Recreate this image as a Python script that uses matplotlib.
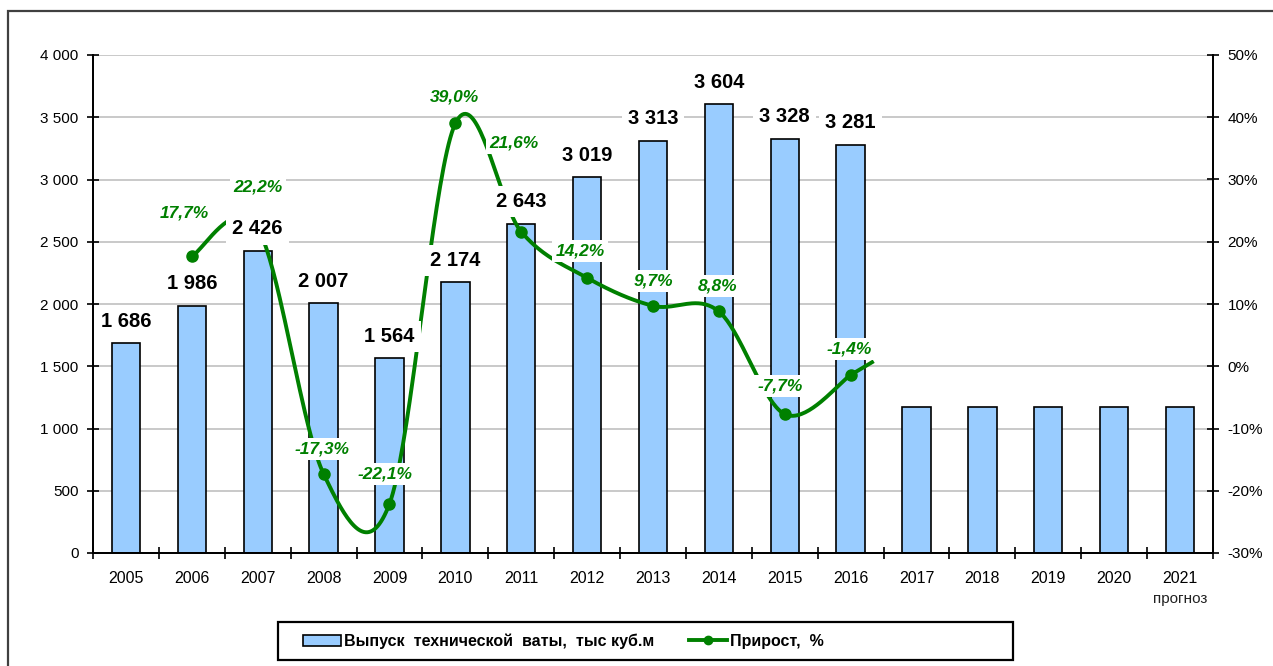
import numpy as np
import matplotlib
matplotlib.use("Agg")
import matplotlib.pyplot as plt
from matplotlib.patches import Rectangle
from matplotlib.lines import Line2D
from matplotlib.patches import Patch

# ---------------- data ----------------
years = ["2005", "2006", "2007", "2008", "2009", "2010", "2011", "2012",
         "2013", "2014", "2015", "2016", "2017", "2018", "2019", "2020", "2021"]
output_vol = [1686, 1986, 2426, 2007, 1564, 2174, 2643, 3019, 3313, 3604,
              3328, 3281, 1175, 1175, 1175, 1175, 1175]
labeled_bars = 12  # first 12 bars carry value labels
growth_years = ["2006", "2007", "2008", "2009", "2010", "2011", "2012",
                "2013", "2014", "2015", "2016"]
growth_pct = [17.7, 22.2, -17.3, -22.1, 39.0, 21.6, 14.2, 9.7, 8.8, -7.7, -1.4]
bar_series_name = "Выпуск  технической  ваты,  тыс куб.м"
line_series_name = "Прирост,  %"
forecast_note = "прогноз"

# label offsets (pixels) for growth labels: (dx, dy)
growth_label_offsets = [(-7, 43), (0, 41), (-2, 25), (-4, 30), (-1, 26), (-7, 89),
                        (-7, 27), (0, 25), (-1, 25), (-5, 28), (-1, 26)]

FONT = ["Liberation Sans", "DejaVu Sans"]
plt.rcParams["font.family"] = FONT

W, H = 1273, 666
fig = plt.figure(figsize=(W / 100, H / 100), dpi=100)
fig.patch.set_facecolor("white")

# outer frame
fig.add_artist(Rectangle((8 / W, -0.1), 1.2, 1.1 - 11 / H, transform=fig.transFigure,
                         fill=False, edgecolor="#404040", linewidth=1.6))

left, right, top, bottom = 93, 1213, 55, 553
ax = fig.add_axes([left / W, (H - bottom) / H, (right - left) / W, (bottom - top) / H])
ax2 = ax.twinx()

x = np.arange(len(years))
green = "#008000"

# bars
ax.bar(x, output_vol, width=0.43, color="#99CCFF", edgecolor="black", linewidth=1.2, zorder=2)
ax.set_xlim(-0.5, len(years) - 0.5)
ax.set_ylim(0, 4000)
ax.set_yticks(np.arange(0, 4001, 500))
ax.set_yticklabels([f"{v:,.0f}".replace(",", " ") for v in np.arange(0, 4001, 500)])
ax.yaxis.grid(True, color="#c0c0c0", linewidth=1.2, zorder=0)
ax.set_axisbelow(True)
ax.set_xticks(x)
ax.set_xticklabels(years)
ax.set_xticks(np.arange(-0.5, len(years), 1), minor=True)
ax.tick_params(axis="x", which="major", length=0, labelsize=11.5, pad=13)
ax.tick_params(axis="x", which="minor", length=9, direction="inout", width=1.2)
ax.tick_params(axis="y", length=9, direction="inout", width=1.2, labelsize=11, pad=6)
for s in ["top"]:
    ax.spines[s].set_visible(False)
    ax2.spines[s].set_visible(False)
for s in ["left", "bottom", "right"]:
    ax.spines[s].set_linewidth(1.3)
    ax2.spines[s].set_linewidth(1.3)

ax.text(x[-1], -0.078, forecast_note, transform=ax.get_xaxis_transform(),
        ha="center", va="top", fontsize=11, color="#222222")

# right axis
ax2.set_ylim(-30, 50)
ax2.set_yticks(np.arange(-30, 51, 10))
ax2.set_yticklabels([f"{v}%" for v in range(-30, 51, 10)])
ax2.tick_params(axis="y", length=9, direction="inout", width=1.2, labelsize=11, pad=6)

# smoothed line (Catmull-Rom style Bezier, as in Excel smoothing)
gx = np.array([years.index(y) for y in growth_years], dtype=float)
gy = np.array(growth_pct, dtype=float)
pts = np.column_stack([gx, gy])
curve = []
n = len(pts)
for i in range(n - 1):
    p0 = pts[i - 1] if i > 0 else pts[i]
    p1, p2 = pts[i], pts[i + 1]
    p3 = pts[i + 2] if i + 2 < n else pts[i + 1]
    c1 = p1 + (p2 - p0) / 6
    c2 = p2 - (p3 - p1) / 6
    t = np.linspace(0, 1, 40)[:, None]
    seg = (1 - t) ** 3 * p1 + 3 * (1 - t) ** 2 * t * c1 + 3 * (1 - t) * t ** 2 * c2 + t ** 3 * p2
    curve.append(seg if i == 0 else seg[1:])
curve = np.vstack(curve)
# short continuation along end tangent
tan = (pts[-1] - pts[-2])
ext = np.array([pts[-1], pts[-1] + tan * 0.35])
curve = np.vstack([curve, ext[1:]])
ax2.plot(curve[:, 0], curve[:, 1], color=green, linewidth=2.8, zorder=3, solid_capstyle="butt")
ax2.plot(gx, gy, "o", color=green, markersize=8, zorder=4)

# bar labels (drawn on ax2 so they sit above the line)
for i in range(labeled_bars):
    ax2.annotate(f"{output_vol[i]:,.0f}".replace(",", " "), (x[i], output_vol[i]),
                 xycoords=ax.transData,
                 xytext=(0, 22), textcoords="offset pixels", ha="center", va="center",
                 fontsize=14.5, fontweight="bold", color="black", zorder=6,
                 bbox=dict(boxstyle="square,pad=0.3", fc="white", ec="none"),
                 annotation_clip=False)

# growth labels
for (xi, yi, (dx, dy)) in zip(gx, gy, growth_label_offsets):
    ax2.annotate(f"{yi:.1f}%".replace(".", ","), (xi, yi), xytext=(dx, dy),
                 textcoords="offset pixels", ha="center", va="center",
                 fontsize=12.5, fontweight="bold", fontstyle="italic", color=green, zorder=7,
                 bbox=dict(boxstyle="square,pad=0.2", fc="white", ec="none"),
                 annotation_clip=False)

# legend
fig.add_artist(Rectangle((278 / W, 1 - 660 / H), (1013 - 278) / W, 38 / H,
                         transform=fig.transFigure, fill=False, edgecolor="black",
                         linewidth=1.6))
handles = [Patch(facecolor="#99CCFF", edgecolor="black", linewidth=1.2),
           Line2D([0], [0], color=green, linewidth=2.8, marker="o", markersize=6)]
leg = fig.legend(handles, [bar_series_name, line_series_name], loc="center left",
                 bbox_to_anchor=(298 / W, 1 - 641 / H), ncol=2,
                 frameon=False,
                 prop={"family": ["Liberation Sans Narrow", "Liberation Sans", "DejaVu Sans"],
                       "size": 11.5, "weight": "bold"},
                 handlelength=2.4, handletextpad=0.15, columnspacing=2.2,
                 borderpad=0.3, borderaxespad=0)

fig.savefig("out.png", dpi=100)
